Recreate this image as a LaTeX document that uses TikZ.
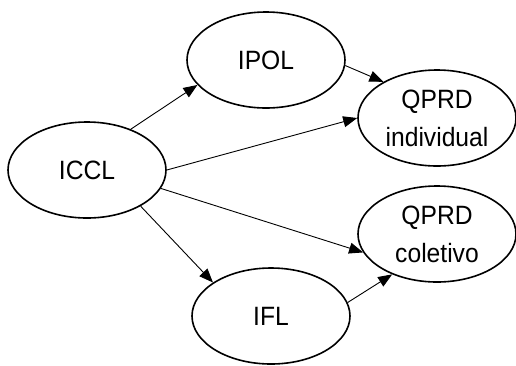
\documentclass[tikz,border=0pt]{standalone}
\usepackage{fontspec}
\setmainfont[FakeStretch=0.93]{Liberation Sans}
\usetikzlibrary{shapes.geometric,arrows.meta}
\begin{document}
\begin{tikzpicture}[x=1pt,y=-1pt,
  var/.style={ellipse,draw,line width=1.6pt,minimum width=158pt,minimum height=96pt,
    inner sep=0pt,align=center,font=\fontsize{26.5}{38}\selectfont},
  link/.style={line width=0.9pt,-{Triangle[length=14pt,width=11pt]}}]
  \useasboundingbox (0,0) rectangle (516,365);
  \node[var] (iccl) at (87,170) {ICCL};
  \node[var] (ipol) at (266,60) {IPOL};
  \node[var] (qind) at (437,118) {QPRD\\individual};
  \node[var] (qcol) at (437,234) {QPRD\\coletivo};
  \node[var] (ifl)  at (271,316) {IFL};
  \draw[link] (iccl.43) -- (ipol.200);
  \draw[link] (ipol.-4) -- (qind.146);
  \draw[link] (iccl.0) -- (qind.180);
  \draw[link] (iccl.-14) -- (qcol.194);
  \draw[link] (iccl.-34) -- (ifl.150);
  \draw[link] (ifl.10) -- (qcol.222);
\end{tikzpicture}
\end{document}
